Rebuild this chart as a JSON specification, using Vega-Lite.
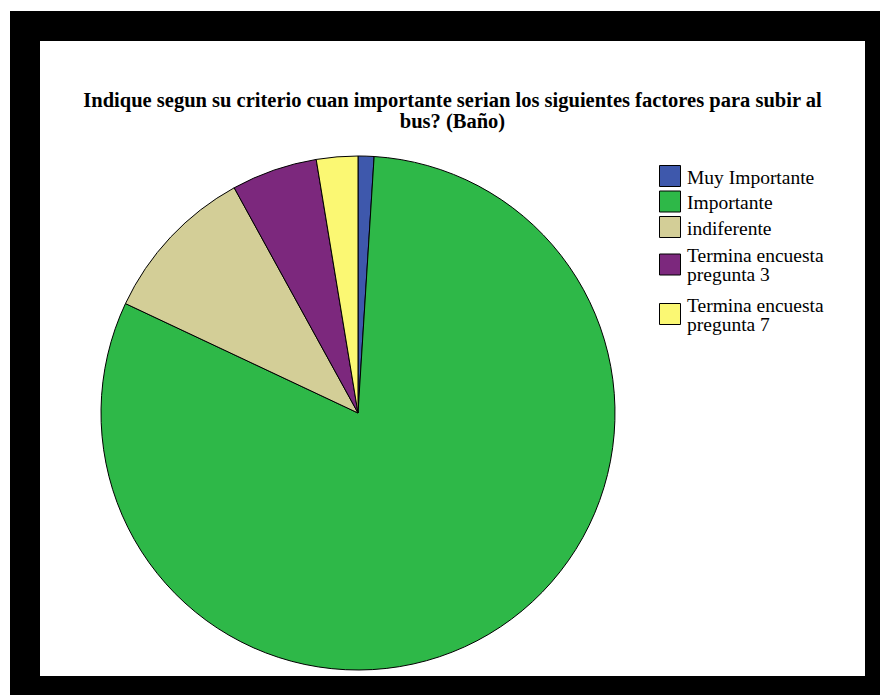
{
  "$schema": "https://vega.github.io/schema/vega-lite/v6.json",
  "width": 855,
  "height": 665,
  "autosize": {"type": "none"},
  "padding": {"left": 25, "top": 26, "right": 0, "bottom": 4},
  "background": "white",
  "view": {"fill": "white", "stroke": "black", "strokeWidth": 30},
  "title": {
    "text": ["Indique segun su criterio cuan importante serian los siguientes factores para subir al", "bus? (Baño)"],
    "font": "Liberation Serif",
    "fontSize": 20.5,
    "fontWeight": "bold",
    "color": "black",
    "anchor": "middle",
    "lineHeight": 21,
    "offset": -106
  },
  "data": {
    "values": [
      {"k": 1, "categoria": "Muy Importante", "porcentaje": 1.0},
      {"k": 2, "categoria": "Importante", "porcentaje": 81.0},
      {"k": 3, "categoria": "indiferente", "porcentaje": 10.0},
      {"k": 4, "categoria": "Termina encuesta pregunta 3", "porcentaje": 5.4},
      {"k": 5, "categoria": "Termina encuesta pregunta 7", "porcentaje": 2.6}
    ]
  },
  "mark": {"type": "arc", "x": 333, "y": 387, "radius": 257, "stroke": "black", "strokeWidth": 1, "opacity": 1},
  "encoding": {
    "theta": {"field": "porcentaje", "type": "quantitative", "stack": true},
    "order": {"field": "k", "type": "quantitative"},
    "color": {
      "field": "categoria",
      "type": "nominal",
      "sort": ["Muy Importante", "Importante", "indiferente", "Termina encuesta pregunta 3", "Termina encuesta pregunta 7"],
      "scale": {
        "domain": ["Muy Importante", "Importante", "indiferente", "Termina encuesta pregunta 3", "Termina encuesta pregunta 7"],
        "range": ["#3E58AC", "#2EB848", "#D3CE97", "#7C287D", "#FBF873"]
      },
      "legend": {
        "title": null,
        "orient": "none",
        "legendX": 634,
        "legendY": 139,
        "padding": 0,
        "symbolType": "square",
        "symbolSize": 441,
        "symbolStrokeColor": "black",
        "symbolStrokeWidth": 1,
        "symbolOpacity": 1,
        "labelFont": "Liberation Serif",
        "labelFontSize": 19.5,
        "labelColor": "black",
        "labelOffset": 6,
        "labelLimit": 300,
        "rowPadding": -0.5,
        "labelExpr": "indexof(datum.label, 'Termina') == 0 ? ['Termina encuesta', slice(datum.label, 17)] : datum.label",
        "labelBaseline": "middle",
        "encode": {
          "symbols": {
            "update": {
              "shape": {"signal": "indexof(datum.label, 'Termina') == 0 ? 'M0,-2.1M0,2.1M-1,-1H1V1H-1Z' : 'square'"}
            }
          },
          "labels": {
            "update": {
              "lineHeight": {"value": 19},
              "dy": {"signal": "indexof(datum.label, 'Termina') == 0 ? -8.5 : 1.5"}
            }
          }
        }
      }
    }
  }
}
